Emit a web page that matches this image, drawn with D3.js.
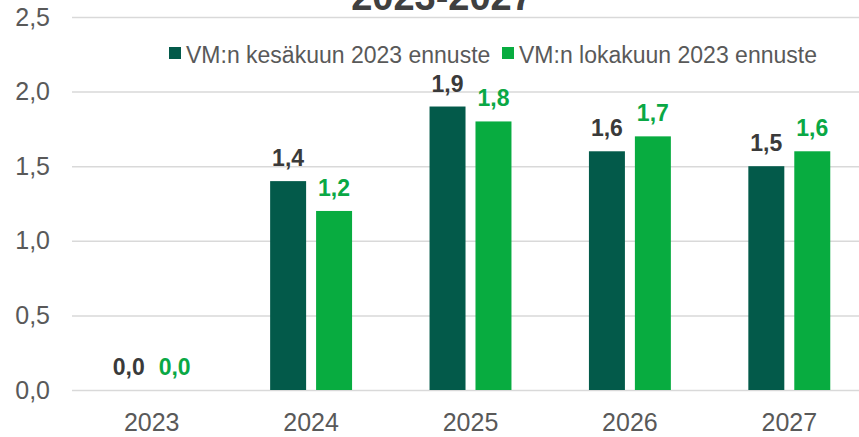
<!DOCTYPE html>
<html>
<head>
<meta charset="utf-8">
<script src="https://cdn.jsdelivr.net/npm/d3@7"></script>
<style>
  body { margin: 0; background: #fff; }
  svg { display: block; font-family: "Liberation Sans", Arial, sans-serif; }
</style>
</head>
<body>
<div id="chart"></div>
<script>
// data
var years = ["2023", "2024", "2025", "2026", "2027"];
var seriesNames = ["VM:n kesäkuun 2023 ennuste", "VM:n lokakuun 2023 ennuste"];
var kesakuu = [0.0, 1.4, 1.9, 1.6, 1.5];
var lokakuu = [0.0, 1.2, 1.8, 1.7, 1.6];
var yTicks = [0, 0.5, 1.0, 1.5, 2.0, 2.5];
var titleText = "2023-2027";

var colors = ["#035a4a", "#08ac40"];
var labelColors = ["#3a3a3a", "#0aa845"];

var width = 859, height = 437;
var fi = d3.formatLocale({ decimal: ",", thousands: " ", grouping: [3], currency: ["", " €"] });
var fmt = fi.format(".1f");

var svg = d3.select("#chart").append("svg")
    .attr("width", width)
    .attr("height", height);

var y = d3.scaleLinear().domain([0, 2.5]).range([390, 17]);
var x0 = d3.scaleBand().domain(years).range([72, 869])
    .paddingInner(0.486).paddingOuter(0.243);
var x1 = d3.scaleBand().domain([0, 1]).range([0, x0.bandwidth()]).paddingInner(0.217);

// y axis + gridlines
var yAxis = svg.append("g")
    .attr("transform", "translate(72,0)")
    .call(d3.axisLeft(y).tickValues(yTicks).tickFormat(fmt)
        .tickSize(-(width - 72)).tickPadding(22));
yAxis.select(".domain").remove();
yAxis.selectAll(".tick line").attr("stroke", "#d9d9d9").attr("stroke-width", 1.5);
yAxis.selectAll(".tick text")
    .attr("fill", "#595959")
    .style("font-size", "25px");

// x axis
var xAxis = svg.append("g")
    .attr("transform", "translate(0,390)")
    .call(d3.axisBottom(x0).tickSize(0).tickPadding(23));
xAxis.select(".domain").remove();
xAxis.selectAll(".tick text")
    .attr("fill", "#595959")
    .style("font-size", "25px");

// title (partly cut off at top, as in the source)
svg.append("text")
    .attr("x", 442)
    .attr("y", 10)
    .attr("text-anchor", "middle")
    .attr("fill", "#404040")
    .style("font-size", "38px")
    .style("font-weight", "bold")
    .text(titleText);

var rows = years.map(function (yr, i) {
    return { year: yr, values: [kesakuu[i], lokakuu[i]] };
});

var groups = svg.selectAll("g.group")
    .data(rows)
    .enter()
    .append("g")
    .attr("class", "group")
    .attr("transform", function (d) { return "translate(" + x0(d.year) + ",0)"; });

groups.selectAll("rect")
    .data(function (d) { return d.values.map(function (v, s) { return { v: v, s: s }; }); })
    .enter()
    .append("rect")
    .attr("x", function (d) { return x1(d.s); })
    .attr("width", x1.bandwidth())
    .attr("y", function (d) { return y(d.v); })
    .attr("height", function (d) { return y(0) - y(d.v); })
    .attr("fill", function (d) { return colors[d.s]; });

groups.selectAll("text.lbl")
    .data(function (d) { return d.values.map(function (v, s) { return { v: v, s: s }; }); })
    .enter()
    .append("text")
    .attr("class", "lbl")
    .attr("x", function (d) { return x1(d.s) + x1.bandwidth() / 2; })
    .attr("y", function (d) { return y(d.v) - 15; })
    .attr("text-anchor", "middle")
    .attr("fill", function (d) { return labelColors[d.s]; })
    .style("font-size", "23px")
    .style("font-weight", "bold")
    .text(function (d) { return fmt(d.v); });

// legend
var legendX = [169, 502];
var legend = svg.selectAll("g.legend")
    .data(seriesNames)
    .enter()
    .append("g")
    .attr("class", "legend")
    .attr("transform", function (d, i) { return "translate(" + legendX[i] + ",0)"; });
legend.append("rect")
    .attr("x", 0)
    .attr("y", 47)
    .attr("width", 12)
    .attr("height", 12)
    .attr("fill", function (d, i) { return colors[i]; });
legend.append("text")
    .attr("x", 17)
    .attr("y", 63)
    .attr("fill", "#595959")
    .style("font-size", "23px")
    .text(function (d) { return d; });
</script>
</body>
</html>
